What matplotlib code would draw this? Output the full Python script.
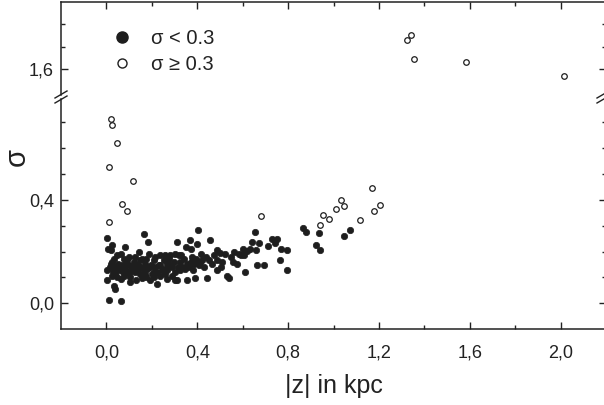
import matplotlib
matplotlib.use("Agg")
import matplotlib.pyplot as plt
from matplotlib.lines import Line2D

plt.rcParams['font.family'] = ['Liberation Sans', 'DejaVu Sans']

# sigma < 0.3 (filled)
z_low = [0.003, 0.007, 0.025, 0.018, 0.003, 0.003, 0.010, 0.066, 0.018, 0.025,
         0.029, 0.032, 0.040, 0.025, 0.047, 0.054, 0.066, 0.081, 0.076, 0.069,
         0.065, 0.084, 0.091, 0.099, 0.106, 0.113, 0.121, 0.132, 0.143, 0.165,
         0.182, 0.157, 0.172, 0.187, 0.191, 0.150, 0.135, 0.194, 0.176, 0.209,
         0.209, 0.224, 0.238, 0.231, 0.253, 0.246, 0.265, 0.275, 0.282, 0.290,
         0.260, 0.304, 0.309, 0.319, 0.326, 0.312, 0.304, 0.349, 0.353, 0.334,
         0.341, 0.356, 0.368, 0.371, 0.378, 0.385, 0.388, 0.403, 0.400, 0.415,
         0.422, 0.407, 0.444, 0.456, 0.451, 0.466, 0.485, 0.488, 0.485, 0.500,
         0.510, 0.521, 0.532, 0.540, 0.547, 0.562, 0.574, 0.584, 0.603, 0.609,
         0.606, 0.632, 0.643, 0.653, 0.657, 0.665, 0.672, 0.694, 0.712, 0.731,
         0.750, 0.743, 0.765, 0.771, 0.797, 0.797,
         0.040, 0.050, 0.059, 0.074, 0.088, 0.106, 0.118, 0.128, 0.138, 0.147,
         0.162, 0.168, 0.179, 0.197, 0.201, 0.216, 0.224, 0.238, 0.235, 0.253,
         0.268, 0.279, 0.290, 0.297, 0.315, 0.324, 0.329, 0.344, 0.363, 0.374,
         0.382, 0.393, 0.412, 0.429, 0.437, 0.474, 0.503, 0.556, 0.591, 0.621,
         0.091, 0.032, 0.015, 0.047, 0.099, 0.124, 0.150, 0.176, 0.216, 0.260,
         0.304, 0.076, 0.040, 0.157, 0.106, 0.209, 0.268,
         0.867, 0.879, 0.936, 0.924, 0.939, 1.073, 1.048]
s_low = [0.254, 0.211, 0.224, 0.207, 0.127, 0.088, 0.014, 0.008, 0.153, 0.159,
         0.120, 0.065, 0.056, 0.104, 0.101, 0.127, 0.192, 0.218, 0.172, 0.146,
         0.093, 0.133, 0.120, 0.146, 0.082, 0.133, 0.159, 0.088, 0.198, 0.269,
         0.237, 0.172, 0.153, 0.192, 0.140, 0.140, 0.127, 0.088, 0.101, 0.120,
         0.166, 0.073, 0.185, 0.146, 0.166, 0.127, 0.153, 0.172, 0.185, 0.140,
         0.114, 0.120, 0.237, 0.185, 0.159, 0.088, 0.088, 0.218, 0.088, 0.140,
         0.172, 0.153, 0.244, 0.211, 0.179, 0.153, 0.098, 0.285, 0.231, 0.192,
         0.166, 0.146, 0.098, 0.246, 0.166, 0.153, 0.207, 0.168, 0.127, 0.194,
         0.159, 0.192, 0.104, 0.098, 0.179, 0.198, 0.153, 0.192, 0.211, 0.120,
         0.185, 0.211, 0.237, 0.277, 0.207, 0.146, 0.233, 0.146, 0.220, 0.250,
         0.250, 0.233, 0.166, 0.211, 0.207, 0.127,
         0.140, 0.153, 0.133, 0.120, 0.153, 0.120, 0.140, 0.120, 0.146, 0.114,
         0.133, 0.114, 0.133, 0.146, 0.114, 0.140, 0.120, 0.146, 0.107, 0.133,
         0.127, 0.146, 0.107, 0.159, 0.140, 0.127, 0.185, 0.133, 0.140, 0.159,
         0.127, 0.172, 0.159, 0.140, 0.179, 0.185, 0.140, 0.159, 0.185, 0.201,
         0.166, 0.172, 0.140, 0.185, 0.179, 0.179, 0.166, 0.172, 0.179, 0.185,
         0.192, 0.107, 0.114, 0.098, 0.101, 0.101, 0.095,
         0.291, 0.275, 0.271, 0.227, 0.207, 0.285, 0.259]

# sigma >= 0.3 (open)
z_high = [0.020, 0.025, 0.046, 0.012, 0.115, 0.068, 0.090, 0.010, 0.680, 0.953,
          0.942, 0.978, 1.010, 1.031, 1.045, 1.115, 1.169, 1.178, 1.203,
          1.325, 1.340, 1.355, 1.584, 2.015]
s_high = [0.713, 0.690, 0.620, 0.527, 0.475, 0.386, 0.356, 0.315, 0.338, 0.341,
          0.304, 0.328, 0.365, 0.400, 0.376, 0.322, 0.448, 0.356, 0.382,
          1.730, 1.750, 1.644, 1.631, 1.570]

W, H = 604, 405
fig = plt.figure(figsize=(W / 100, H / 100), dpi=100)

def fx(px):
    return px / W

def fy(py):
    return 1 - py / H

left, right = fx(61), fx(606)
ax_lo = fig.add_axes([left, fy(329), right - left, fy(99) - fy(329)])
ax_hi = fig.add_axes([left, fy(95), right - left, fy(2) - fy(95)])

dark = '#1e1e1e'
for ax in (ax_lo, ax_hi):
    ax.plot(z_low, s_low, 'o', ms=4.6, color=dark, mec=dark, mew=0.5)
    ax.plot(z_high, s_high, 'o', ms=4.0, mfc='white', mec=dark, mew=0.9)
    ax.set_xlim(-0.2, 2.2)
    ax.set_xticks([0.0, 0.4, 0.8, 1.2, 1.6, 2.0])
    ax.set_xticks([0.2, 0.6, 1.0, 1.4, 1.8], minor=True)
    ax.tick_params(which='both', direction='in', right=True, width=1.0,
                   labelsize=13, colors='#222222')
    ax.tick_params(which='major', length=5)
    ax.tick_params(which='minor', length=3)
    for sp in ax.spines.values():
        sp.set_linewidth(1.1)
        sp.set_color('#222222')

ax_lo.set_ylim(-0.1, 0.791)
ax_lo.set_yticks([0.0, 0.4])
ax_lo.set_yticks([0.1, 0.2, 0.3, 0.5, 0.6, 0.7], minor=True)
ax_lo.set_yticklabels(['0,0', '0,4'])
ax_lo.set_xticklabels(['0,0', '0,4', '0,8', '1,2', '1,6', '2,0'])
ax_lo.spines['top'].set_visible(False)
ax_lo.tick_params(axis='x', which='both', top=False, pad=11)
ax_lo.tick_params(axis='y', pad=5)
ax_lo.set_xlabel('|z| in kpc', fontsize=18, labelpad=9, color='#222222')

ax_hi.set_ylim(1.486, 1.898)
ax_hi.set_yticks([1.6])
ax_hi.set_yticks([1.7, 1.8], minor=True)
ax_hi.set_yticklabels(['1,6'])
ax_hi.spines['bottom'].set_visible(False)
ax_hi.tick_params(axis='x', which='both', bottom=False, top=True,
                  labelbottom=False)
ax_hi.tick_params(axis='y', pad=5)

fig.text(fx(16.5), fy(157), 'σ', rotation=90, fontsize=21,
         ha='center', va='center', color='#222222')

# break marks on both vertical spines
for xc in (61, 603):
    for yc in (94.5, 99.5):
        fig.add_artist(Line2D([fx(xc - 6), fx(xc + 6)], [fy(yc + 3.5), fy(yc - 3.5)],
                              color='#222222', lw=1.0))

handles = [Line2D([], [], ls='none', marker='o', ms=8, color=dark),
           Line2D([], [], ls='none', marker='o', ms=6.5, mfc='white',
                  mec=dark, mew=1.0)]
fig.legend(handles, ['σ < 0.3', 'σ ≥ 0.3'], loc='upper left',
           bbox_to_anchor=(fx(111), fy(29)), frameon=False, fontsize=14.5,
           handlelength=1.1, handletextpad=0.9, labelspacing=0.33,
           borderpad=0, borderaxespad=0, labelcolor='#222222')

fig.savefig('out.png', dpi=100)
